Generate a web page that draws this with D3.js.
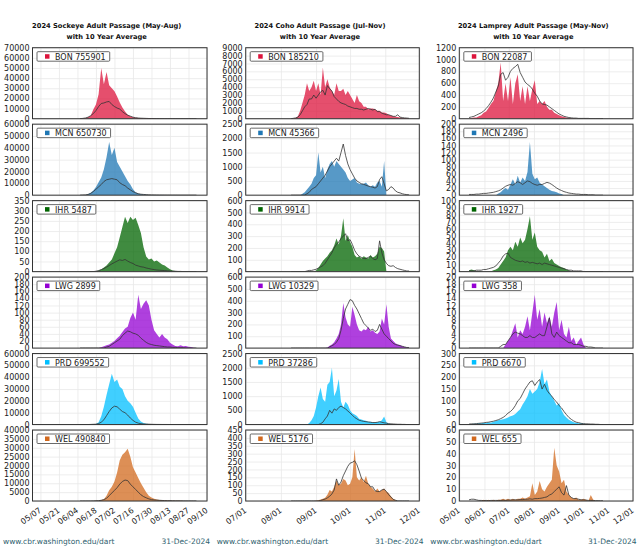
<!DOCTYPE html>
<html><head><meta charset="utf-8">
<script src="https://cdn.jsdelivr.net/npm/d3@7"></script>
<style>body{margin:0;background:#fff}svg{display:block;font-family:"DejaVu Sans",sans-serif}</style>
</head><body><svg id="c" width="640" height="560"></svg>
<script>
// ---------- DATA ----------
const sites = ["BON","MCN","IHR","LWG","PRD","WEL"];
const siteColors = ["#dc143c","#1f77b4","#006400","#9400d3","#00bfff","#d2691e"];

const sockeyeTitle = ["2024 Sockeye Adult Passage (May-Aug)","with 10 Year Average"];
const cohoTitle = ["2024 Coho Adult Passage (Jul-Nov)","with 10 Year Average"];
const lampreyTitle = ["2024 Lamprey Adult Passage (May-Nov)","with 10 Year Average"];

const sockeyeTotals = [755901,650730,5487,2899,699552,490840];
const cohoTotals = [185210,45366,9914,10329,37286,5176];
const lampreyTotals = [22087,2496,1927,358,6670,655];

const sockeyeYMax = [70000,60000,350,200,60000,40000];
const sockeyeYStep = [10000,10000,50,20,10000,5000];
const cohoYMax = [9000,2500,600,600,2500,450];
const cohoYStep = [1000,500,100,100,500,50];
const lampreyYMax = [1200,200,100,20,300,60];
const lampreyYStep = [200,20,10,2,50,10];

const sockeyeDomain = ["2024-05-01","2024-09-10"];
const cohoDomain = ["2024-07-01","2024-12-01"];
const lampreyDomain = ["2024-05-01","2024-12-01"];

const sockeyeXTicks = ["05/07","05/21","06/04","06/18","07/02","07/16","07/30","08/13","08/27","09/10"];
const cohoXTicks = ["07/01","08/01","09/01","10/01","11/01","12/01"];
const lampreyXTicks = ["05/01","06/01","07/01","08/01","09/01","10/01","11/01","12/01"];

// sockeye: first value on 2024-06-06, one value every 2 days
const sockeyeStart = "2024-06-06", sockeyeStepDays = 2;
const sockBON = [0,100,500,1500,3000,9000,14000,24000,50000,34000,46000,33000,30000,27000,22000,16000,11000,7000,4000,2500,1500,900,600,400,300,200,150,100,80,60,50,40,30,20,20,10,10,0,0,0,0,0,0,0,0];
const sockBONAvg = [100,300,700,1500,3000,5000,8000,12000,15000,15500,16500,17000,14000,12000,10500,9500,7000,5000,3500,2500,1500,1000,700,500,400,300,200,150,100,100,80,60,50,40,30,20,20,10,10,10,0,0,0,0,0];
const sockMCN = [0,0,200,800,2000,4000,7000,11000,15000,22000,32000,45000,34000,40000,28000,24000,20000,16000,12000,9000,5000,2500,1500,800,500,300,200,100,80,60,50,40,30,20,10,0,0,0,0,0,0,0,0,0,0];
const sockMCNAvg = [0,100,200,600,1500,3000,5000,7000,9000,11500,13000,13500,14000,13500,13000,10500,9000,8000,6000,4500,3000,2000,1200,800,600,400,300,200,150,100,80,60,50,40,30,20,20,10,0,0,0,0,0,0,0];
const sockIHR = [0,0,0,0,0,0,0,5,10,20,30,45,60,90,120,170,220,270,240,270,255,265,230,190,120,75,60,65,50,55,45,35,30,20,12,6,3,0,0,0,0,0,0,0,0];
const sockIHRAvg = [0,0,0,0,0,0,2,5,10,15,22,30,38,45,52,58,55,60,52,45,40,32,28,24,22,18,15,12,10,8,7,6,5,4,3,2,2,1,1,0,0,0,0,0,0];
const sockLWG = [0,0,0,0,0,0,0,0,2,5,8,10,15,20,28,35,45,55,60,85,100,80,150,110,125,135,120,80,50,40,30,40,30,25,15,10,6,5,8,5,6,4,3,1,0];
const sockLWGAvg = [0,0,0,0,0,0,0,0,0,0,3,5,10,15,20,25,35,42,48,46,42,40,36,28,22,16,12,10,8,7,6,5,4,3,3,2,2,1,1,1,0,0,0,0,0];
const sockPRD = [0,0,0,0,0,0,500,2000,7000,15000,25000,34000,43000,36000,38000,32000,30000,24000,20000,18000,15000,10000,5000,2500,1200,700,400,300,200,150,100,80,60,50,40,30,20,10,10,0,0,0,0,0,0];
const sockPRDAvg = [0,0,0,0,100,200,300,800,2000,4000,7500,11000,14000,15500,15000,13000,11000,10000,8000,5500,3500,2000,1200,700,500,400,300,200,150,100,80,60,50,40,30,20,20,10,10,0,0,0,0,0,0];
const sockWEL = [0,0,0,0,0,0,100,200,500,1000,3000,6000,8000,11000,16000,23000,26000,27500,29500,25000,19000,16000,13000,10000,7500,5000,3000,2000,1200,800,500,400,300,250,200,150,100,100,80,50,30,20,10,0,0];
const sockWELAvg = [0,0,0,0,0,50,100,200,400,800,1500,3000,4500,6000,7500,9500,11000,11800,11500,9500,8000,6500,5000,3500,2500,1800,1200,800,600,500,400,300,250,200,200,150,100,100,80,60,50,40,30,20,10];

// coho: first value on 2024-08-10, one value every 2 days
const cohoStart = "2024-08-10", cohoStepDays = 2;
const cohoBON = [0,0,100,300,1000,2000,3000,4500,3500,4000,4800,3500,4500,3000,6500,4000,5000,4000,3500,3000,4500,3500,3500,3800,3000,3500,3000,2500,2000,3000,2200,2000,1500,1500,1200,1300,1300,1200,1000,1000,800,800,700,500,400,300,250,200,150,100,80,50,0];
const cohoBONAvg = [0,50,100,200,500,1000,1500,1800,2500,2500,3000,2600,3000,3400,3600,3000,4200,3800,3500,2800,2500,2200,2000,1900,1800,1600,1500,1400,1300,1300,1200,1200,1100,1200,1300,1200,1100,1200,900,900,700,600,500,500,400,300,300,500,200,150,100,80,50];
const cohoMCN = [0,0,0,0,0,50,100,200,300,400,600,700,1500,800,1000,600,900,1100,1200,1000,1200,1100,1000,900,800,600,500,550,600,450,400,400,400,450,350,300,350,300,450,500,300,1200,0,0,0,0,0,0,0,0,0,0,0];
const cohoMCNAvg = [0,0,0,0,0,0,0,50,100,200,250,300,400,500,600,700,850,1000,1100,1200,1300,1200,1500,1800,1400,1100,900,750,600,500,450,400,380,350,320,300,280,250,300,550,650,400,150,200,300,250,150,100,80,50,30,20,10];
const cohoIHR = [0,0,0,0,0,0,0,0,0,0,0,10,30,60,90,110,130,160,180,220,280,230,300,450,260,310,250,210,140,120,130,110,130,120,110,140,120,130,150,210,200,170,0,0,0,0,0,0,0,0,0,0,0];
const cohoIHRAvg = [0,0,0,0,0,0,0,5,10,10,15,20,30,40,50,70,100,130,160,200,230,250,280,300,320,260,270,230,180,150,130,120,110,110,120,130,110,100,110,260,160,100,70,50,45,50,35,25,20,15,10,5,5];
const cohoLWG = [0,0,0,0,0,0,0,0,0,0,0,0,0,0,0,0,5,20,30,50,80,120,200,380,260,200,180,350,280,200,150,140,160,150,180,140,150,130,120,140,250,200,370,180,80,60,40,30,25,15,10,5,0];
const cohoLWGAvg = [0,0,0,0,0,0,0,0,0,0,0,0,0,0,0,0,0,10,20,30,50,80,150,250,330,370,410,400,360,330,290,250,210,190,170,150,160,140,150,200,160,120,100,80,60,40,30,25,20,15,10,5,5];
const cohoPRD = [0,0,0,0,0,0,0,0,50,150,300,600,1000,1300,900,800,1400,1500,2000,1000,1200,1600,800,600,800,700,500,400,350,300,200,180,150,130,100,100,80,80,90,100,150,280,80,40,20,15,10,5,5,0,0,0,0];
const cohoPRDAvg = [0,0,0,0,0,0,0,0,0,0,0,0,0,30,80,200,300,500,400,550,500,600,650,600,550,480,400,330,250,200,150,130,110,100,90,80,70,70,80,100,80,60,50,30,25,20,15,10,10,5,5,0,0];
const cohoWEL = [0,0,0,0,0,0,0,0,0,0,0,2,5,10,15,20,40,70,60,90,130,100,110,140,130,100,110,150,330,150,130,150,120,160,110,90,80,60,80,60,70,80,60,50,30,15,5,0,0,0,0,0,0];
const cohoWELAvg = [0,0,0,0,0,0,0,0,0,0,0,0,0,3,8,12,20,30,45,70,140,100,120,160,190,220,240,245,255,230,190,145,130,115,110,90,90,65,60,60,70,75,60,40,25,10,5,0,0,0,0,0,0];

// lamprey: first value on 2024-05-13, one value every 3 days
const lampreyStart = "2024-05-13", lampreyStepDays = 3;
const lampBON = [0,10,20,20,40,60,100,120,180,250,300,450,600,950,300,600,300,700,250,600,750,300,550,250,550,300,500,650,250,300,250,300,200,150,150,100,80,60,40,30,20,10,5,5,0,0,0,0,0,0,0,0,0,0,0,0];
const lampBONAvg = [20,30,40,60,80,100,130,170,220,280,350,450,550,750,780,650,700,800,850,880,920,780,700,620,580,550,500,430,380,300,250,240,230,200,170,140,110,80,60,40,30,20,15,10,10,5,5,5,5,5,0,0,0,0,0,0];
const lampMCN = [0,0,0,0,0,0,0,0,0,0,0,0,5,8,15,20,15,30,45,30,55,35,50,40,65,150,60,45,50,35,30,25,20,15,12,10,8,5,3,0,0,0,0,0,0,0,0,0,0,0,0,0,0,0,0,0];
const lampMCNAvg = [2,2,2,3,3,4,5,5,6,7,8,10,12,15,20,25,28,30,28,33,38,35,30,35,40,38,33,30,28,30,30,33,36,34,30,25,20,16,13,10,8,6,5,4,3,3,2,2,2,1,1,1,0,0,0,0];
const lampIHR = [2,3,2,1,1,0,0,0,0,0,2,3,5,10,15,20,30,35,30,42,35,48,40,45,60,78,45,55,35,30,28,20,25,15,18,12,10,8,6,5,3,2,0,0,0,0,0,0,0,0,0,0,0,0,0,0];
const lampIHRAvg = [1,1,1,2,2,2,3,3,4,5,6,8,12,16,22,25,26,20,18,16,15,14,15,13,14,12,13,12,11,12,10,12,11,10,9,8,7,6,5,4,3,2,2,1,1,1,1,0,0,0,0,0,0,0,0,0];
const lampLWG = [0,0,0,0,0,0,0,0,0,0,0,0,0,0,0,1,2,3,5,7,3,5,4,6,9,5,10,15,8,11,6,10,7,9,6,10,13,5,8,4,3,6,2,3,1,2,3,1,0,0,0,0,0,0,0,0];
const lampLWGAvg = [0,0,0,0,0,0,0,0,0,0,0,0,0,0.5,1,1,2,3,4,4.5,4.2,4,3.5,3,3,3.5,3,3,3.5,4,3.5,3.5,6,8.5,4,3,4.5,3.5,3,2.5,2,1.5,1.5,1,1,1,0.8,0.5,0.5,0.3,0.3,0.2,0,0,0,0];
const lampPRD = [2,2,3,3,5,5,8,5,10,8,12,15,18,20,22,25,30,35,38,45,55,65,85,100,120,150,130,140,150,180,235,170,190,140,120,100,80,90,60,40,30,20,15,10,8,5,5,3,2,2,1,1,0,0,0,0];
const lampPRDAvg = [2,3,3,4,5,6,7,9,10,12,14,17,20,25,30,38,48,55,65,80,100,110,130,150,165,180,185,165,180,190,150,170,145,130,120,105,95,80,70,55,42,30,22,15,10,8,5,4,3,3,2,2,1,1,0,0];
const lampWEL = [0,0,0,0,0,0,1,0,1,0,1,0,1,1,2,1,2,1,2,1,2,2,3,2,3,4,15,5,8,17,10,8,12,15,18,45,30,25,15,18,8,5,3,2,3,1,1,2,1,0,5,1,0,0,0,0];
const lampWELAvg = [1,1.5,1.5,1,0.5,0.5,0.3,0.5,0.3,0.5,0.5,0.5,0.5,0.5,0.7,0.5,0.8,0.8,1,1,1,1.2,1.2,1.5,1.5,1.8,1.5,2,2,2.2,2.5,3,3.5,5,6,8,10,12,7,5,13,5,3,2,2,1.5,1,1,0.8,0.5,0.5,0.5,0.3,0.3,0.2,0.2];

const footerSite = "www.cbr.washington.edu/dart";
const footerDate = "31-Dec-2024";

// ---------- DRAW ----------
const svg = d3.select("#c");
const parseD = d3.timeParse("%Y-%m-%d");
const parseTick = s => d3.timeParse("%Y/%m/%d")("2024/" + s);
function toSeries(start, step, vals){
  const s = parseD(start);
  return vals.map((v,i)=>({date:d3.timeDay.offset(s,i*step), v}));
}

const columns = [
  {title:sockeyeTitle, domain:sockeyeDomain, ticks:sockeyeXTicks, totals:sockeyeTotals, ymax:sockeyeYMax, ystep:sockeyeYStep,
   start:sockeyeStart, step:sockeyeStepDays,
   data:[[sockBON,sockBONAvg],[sockMCN,sockMCNAvg],[sockIHR,sockIHRAvg],[sockLWG,sockLWGAvg],[sockPRD,sockPRDAvg],[sockWEL,sockWELAvg]]},
  {title:cohoTitle, domain:cohoDomain, ticks:cohoXTicks, totals:cohoTotals, ymax:cohoYMax, ystep:cohoYStep,
   start:cohoStart, step:cohoStepDays,
   data:[[cohoBON,cohoBONAvg],[cohoMCN,cohoMCNAvg],[cohoIHR,cohoIHRAvg],[cohoLWG,cohoLWGAvg],[cohoPRD,cohoPRDAvg],[cohoWEL,cohoWELAvg]]},
  {title:lampreyTitle, domain:lampreyDomain, ticks:lampreyXTicks, totals:lampreyTotals, ymax:lampreyYMax, ystep:lampreyYStep,
   start:lampreyStart, step:lampreyStepDays,
   data:[[lampBON,lampBONAvg],[lampMCN,lampMCNAvg],[lampIHR,lampIHRAvg],[lampLWG,lampLWGAvg],[lampPRD,lampPRDAvg],[lampWEL,lampWELAvg]]}
];

const colLeft = [32.5,245.7,459.3], colRight = [207,419.3,633];
const colCenter = [106.7,320,533.3];
const rowTop0 = 47.7, rowPitch = 76.46, rowH = 71;

columns.forEach((col,c)=>{
  const L = colLeft[c], R = colRight[c];
  const x = d3.scaleTime().domain(col.domain.map(parseD)).range([L,R]);
  const tickDates = col.ticks.map(parseTick);

  svg.append("text").attr("x",colCenter[c]).attr("y",27.5).attr("text-anchor","middle")
    .attr("font-size",6.7).attr("font-weight","bold").attr("fill","#111").text(col.title[0]);
  svg.append("text").attr("x",colCenter[c]).attr("y",39).attr("text-anchor","middle")
    .attr("font-size",6.7).attr("font-weight","bold").attr("fill","#111").text(col.title[1]);

  sites.forEach((site,r)=>{
    const top = rowTop0 + r*rowPitch, bot = top + rowH;
    const y = d3.scaleLinear().domain([0,col.ymax[r]]).range([bot,top]);
    const g = svg.append("g");
    const cid = `clip${c}_${r}`;
    g.append("clipPath").attr("id",cid).append("rect").attr("x",L).attr("y",top).attr("width",R-L).attr("height",rowH);

    const yTicks = d3.range(0, col.ymax[r] + col.ystep[r]/2, col.ystep[r]);
    const yAxis = g.append("g").attr("transform",`translate(${L},0)`)
      .call(d3.axisLeft(y).tickValues(yTicks).tickSize(-(R-L)).tickPadding(3).tickFormat(d3.format("d")));
    yAxis.select(".domain").remove();
    yAxis.selectAll("line").attr("stroke","#e8e8e8").attr("stroke-width",0.8);
    yAxis.selectAll("text").attr("font-size",8).attr("fill","#222").attr("font-family","DejaVu Sans");

    const xAxis = g.append("g").attr("transform",`translate(0,${bot})`)
      .call(d3.axisBottom(x).tickValues(tickDates).tickSize(-rowH).tickFormat((d,i)=> r===5 ? col.ticks[i] : ""));
    xAxis.select(".domain").remove();
    xAxis.selectAll("line").attr("stroke","#e8e8e8").attr("stroke-width",0.8);
    if (r===5){
      xAxis.selectAll("text").attr("font-size",8).attr("fill","#222").attr("font-family","DejaVu Sans")
        .attr("text-anchor","end").attr("dy",0).attr("y",0)
        .attr("transform","translate(1,10.5) rotate(-35)");
    }

    const yr = toSeries(col.start, col.step, col.data[r][0]);
    const av = toSeries(col.start, col.step, col.data[r][1]);
    const plot = g.append("g").attr("clip-path",`url(#${cid})`);
    plot.append("path").datum(yr)
      .attr("d", d3.area().x(d=>x(d.date)).y0(y(0)).y1(d=>y(d.v)))
      .attr("fill", siteColors[r]).attr("fill-opacity",0.75);
    plot.append("path").datum(av)
      .attr("d", d3.line().x(d=>x(d.date)).y(d=>y(d.v)))
      .attr("fill","none").attr("stroke","#333").attr("stroke-width",0.8);

    g.append("rect").attr("x",L).attr("y",top).attr("width",R-L).attr("height",rowH)
      .attr("fill","none").attr("stroke","#333").attr("stroke-width",1);

    const lg = g.append("g").attr("transform",`translate(${L+4.5},${top+4})`);
    const box = lg.append("rect").attr("x",0).attr("y",0).attr("height",9.5).attr("rx",1)
      .attr("fill","#fff").attr("stroke","#444").attr("stroke-width",0.8);
    lg.append("rect").attr("x",8).attr("y",2.5).attr("width",4.5).attr("height",4.5).attr("fill",siteColors[r]);
    const t = lg.append("text").attr("x",18).attr("y",8).attr("font-size",8).attr("fill","#222")
      .text(`${site} ${col.totals[r]}`);
    box.attr("width", 18 + t.node().getComputedTextLength() + 4);
  });

  svg.append("text").attr("x", c===0 ? 3 : colLeft[c]-29).attr("y",543.5).attr("font-size",7.5)
    .attr("fill","#2f5f6f").text(footerSite);
  svg.append("text").attr("x", [210,423.5,636.5][c]).attr("y",543.5).attr("font-size",7.5)
    .attr("text-anchor","end").attr("fill","#2f5f6f").text(footerDate);
});
</script></body></html>
